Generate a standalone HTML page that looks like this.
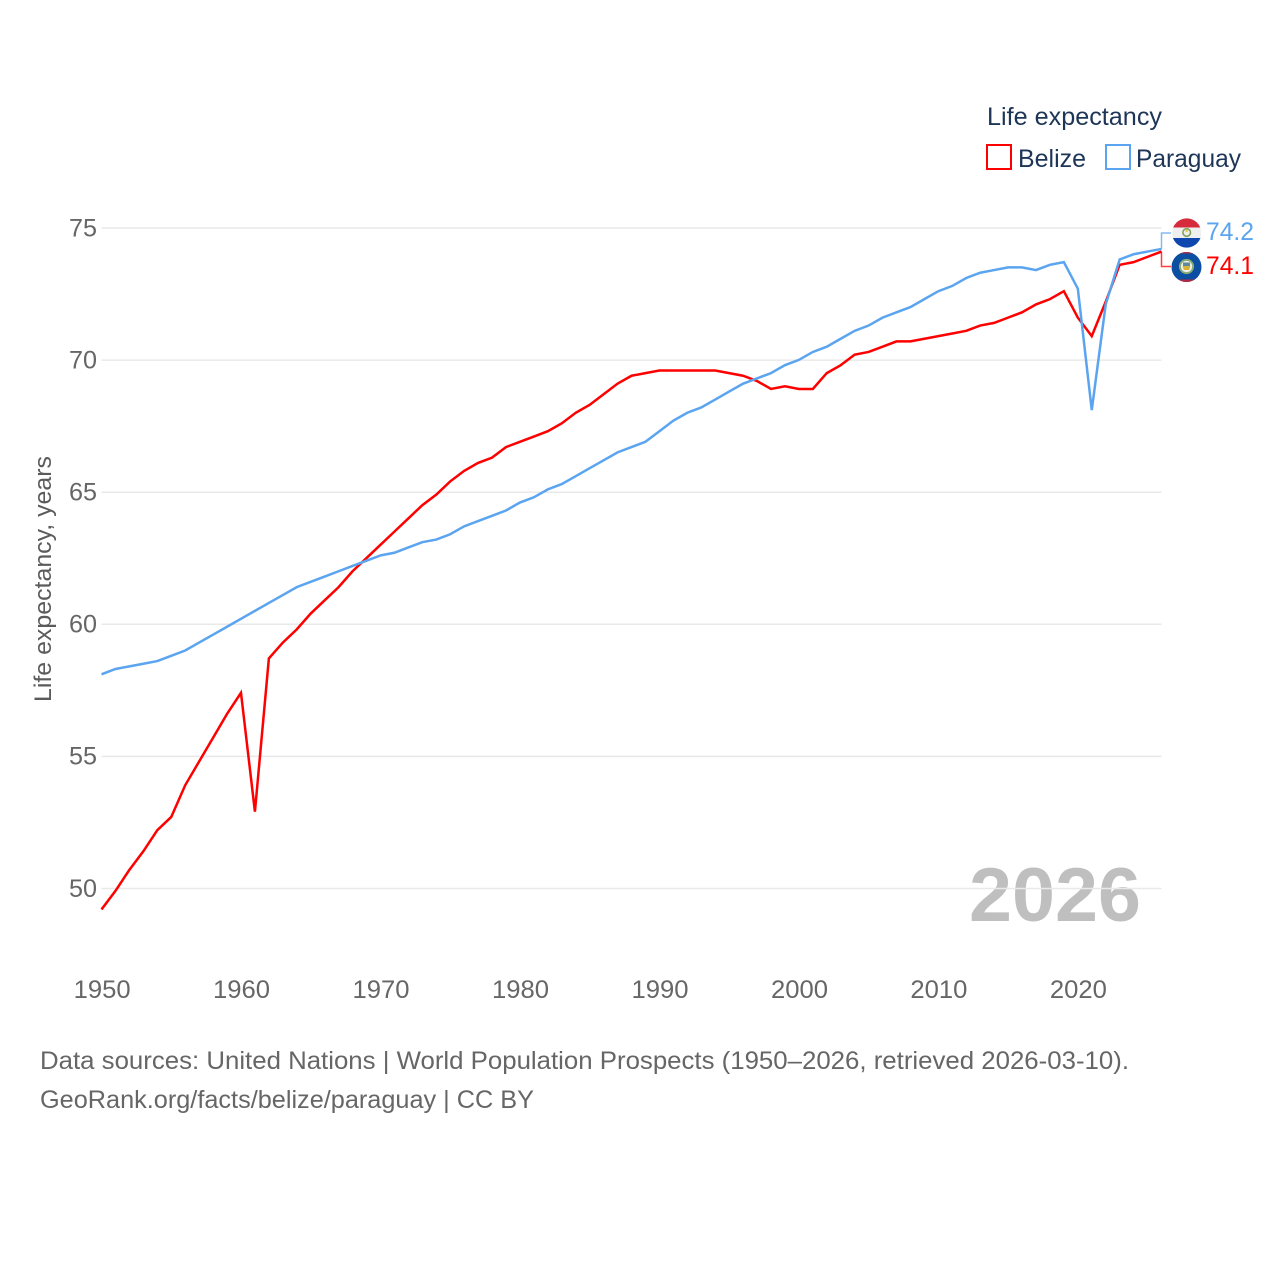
<!DOCTYPE html>
<html lang="en">
<head>
<meta charset="utf-8">
<title>Life expectancy: Belize and Paraguay</title>
<style>
html,body{margin:0;padding:0;background:#fff;width:1280px;height:1280px;overflow:hidden}
svg{display:block}
text{font-family:"Liberation Sans",sans-serif}
</style>
</head>
<body>
<svg id="chart" xmlns="http://www.w3.org/2000/svg" width="1280" height="1280" viewBox="0 0 1280 1280">
  <rect x="0" y="0" width="1280" height="1280" fill="#fff"/>
  <text x="969" y="921" font-size="76" font-weight="700" fill="#000" fill-opacity="0.25" textLength="172" lengthAdjust="spacingAndGlyphs">2026</text>
  <g id="grid"></g>
  <g id="yticks"></g>
  <g id="xticks"></g>
  <text transform="translate(51 702) rotate(-90)" font-size="24" fill="#5b5b5b" textLength="246" lengthAdjust="spacingAndGlyphs">Life expectancy, years</text>
  <g id="series"></g>
  <g id="connectors"></g>

  <g>
    <clipPath id="clip-py"><circle cx="1186.7" cy="233" r="14.6"/></clipPath>
    <g clip-path="url(#clip-py)">
      <rect x="1170" y="217" width="34" height="10.5" fill="#d52b3c"/>
      <rect x="1170" y="227.5" width="34" height="10.5" fill="#efefef"/>
      <rect x="1170" y="238" width="34" height="12" fill="#0f47af"/>
      <circle cx="1186.7" cy="232.5" r="3.8" fill="none" stroke="#7fa35a" stroke-width="1.6"/>
      <circle cx="1186.7" cy="231" r="1.2" fill="#e8c33d"/>
    </g>
  </g>
  <g>
    <clipPath id="clip-bz"><circle cx="1186.5" cy="267" r="15"/></clipPath>
    <g clip-path="url(#clip-bz)">
      <rect x="1170" y="251" width="34" height="32" fill="#0b4ea2"/>
      <rect x="1170" y="251" width="34" height="2.5" fill="#b02a40"/>
      <rect x="1170" y="279.5" width="34" height="3.5" fill="#b02a40"/>
      <circle cx="1186.5" cy="266.5" r="6.6" fill="#f1f1ea" stroke="#86ab75" stroke-width="2"/>
      <path d="M1182.5 266h8l-1.4 4h-5.2z" fill="#d9b23a"/>
      <path d="M1183 262.5h7v3.5h-7z" fill="#5a8a9c"/>
    </g>
  </g>
  <g id="endlabels"></g>

  <g>
    <text x="987" y="125" font-size="25" fill="#1d3557" textLength="175" lengthAdjust="spacingAndGlyphs">Life expectancy</text>
    <g>
      <rect x="987" y="145" width="24" height="24" fill="#fff" stroke="#ff0000" stroke-width="2"/>
      <text x="1018" y="167" font-size="25" fill="#1d3557" textLength="68" lengthAdjust="spacingAndGlyphs">Belize</text>
    </g>
    <g>
      <rect x="1106" y="145" width="24" height="24" fill="#fff" stroke="#5ba4ef" stroke-width="2"/>
      <text x="1136" y="167" font-size="25" fill="#1d3557" textLength="105" lengthAdjust="spacingAndGlyphs">Paraguay</text>
    </g>
  </g>

  <text x="40" y="1069" font-size="25" fill="#666" textLength="1089" lengthAdjust="spacingAndGlyphs">Data sources: United Nations | World Population Prospects (1950–2026, retrieved 2026-03-10).</text>
  <text x="40" y="1108" font-size="25" fill="#666" textLength="494" lengthAdjust="spacingAndGlyphs">GeoRank.org/facts/belize/paraguay | CC BY</text>
</svg>
<script>
const startYear = 1950;
const yTickValues = [50, 55, 60, 65, 70, 75];
const xTickValues = [1950, 1960, 1970, 1980, 1990, 2000, 2010, 2020];
const belizeValues = [
  49.2, 49.9, 50.7, 51.4, 52.2, 52.7, 53.9, 54.8, 55.7, 56.6,
  57.4, 52.9, 58.7, 59.3, 59.8, 60.4, 60.9, 61.4, 62.0, 62.5,
  63.0, 63.5, 64.0, 64.5, 64.9, 65.4, 65.8, 66.1, 66.3, 66.7,
  66.9, 67.1, 67.3, 67.6, 68.0, 68.3, 68.7, 69.1, 69.4, 69.5,
  69.6, 69.6, 69.6, 69.6, 69.6, 69.5, 69.4, 69.2, 68.9, 69.0,
  68.9, 68.9, 69.5, 69.8, 70.2, 70.3, 70.5, 70.7, 70.7, 70.8,
  70.9, 71.0, 71.1, 71.3, 71.4, 71.6, 71.8, 72.1, 72.3, 72.6,
  71.6, 70.9, 72.2, 73.6, 73.7, 73.9, 74.1
];
const paraguayValues = [
  58.1, 58.3, 58.4, 58.5, 58.6, 58.8, 59.0, 59.3, 59.6, 59.9,
  60.2, 60.5, 60.8, 61.1, 61.4, 61.6, 61.8, 62.0, 62.2, 62.4,
  62.6, 62.7, 62.9, 63.1, 63.2, 63.4, 63.7, 63.9, 64.1, 64.3,
  64.6, 64.8, 65.1, 65.3, 65.6, 65.9, 66.2, 66.5, 66.7, 66.9,
  67.3, 67.7, 68.0, 68.2, 68.5, 68.8, 69.1, 69.3, 69.5, 69.8,
  70.0, 70.3, 70.5, 70.8, 71.1, 71.3, 71.6, 71.8, 72.0, 72.3,
  72.6, 72.8, 73.1, 73.3, 73.4, 73.5, 73.5, 73.4, 73.6, 73.7,
  72.7, 68.1, 72.1, 73.8, 74.0, 74.1, 74.2
];

const NS = 'http://www.w3.org/2000/svg';
const plotLeft = 101.5, plotRight = 1161.5;
const lastIndex = belizeValues.length - 1;
function xScale(year) { return plotLeft + (year - startYear) * (plotRight - plotLeft) / lastIndex; }
function yScale(v) { return 888.3 - (v - 50) * 26.42; }
function make(tag, attrs, parent) {
  const el = document.createElementNS(NS, tag);
  for (const k in attrs) el.setAttribute(k, attrs[k]);
  parent.appendChild(el);
  return el;
}

const gridG = document.getElementById('grid');
const yG = document.getElementById('yticks');
const xG = document.getElementById('xticks');
const seriesG = document.getElementById('series');
const connG = document.getElementById('connectors');
const endG = document.getElementById('endlabels');

yTickValues.forEach(function (v) {
  const line = make('line', { x1: plotLeft, x2: plotRight, y1: yScale(v) + 0.2, y2: yScale(v) + 0.2, stroke: '#e9e9e9', 'stroke-width': 1.5 }, gridG);
  
  
  const t = make('text', { x: 97, y: yScale(v) + 8.5, 'text-anchor': 'end', 'font-size': 25, fill: '#666', textLength: 28, lengthAdjust: 'spacingAndGlyphs' }, yG);
  t.textContent = String(v);
  
  
});

xTickValues.forEach(function (y) {
  const t = make('text', { x: xScale(y) + 0.6, y: 998, 'text-anchor': 'middle', 'font-size': 25, fill: '#666', textLength: 57, lengthAdjust: 'spacingAndGlyphs' }, xG);
  t.textContent = String(y);
  
  
});

function pathFor(values) {
  return values.map(function (v, i) {
    return (i ? 'L' : 'M') + xScale(startYear + i).toFixed(2) + ' ' + yScale(v).toFixed(2);
  }).join('');
}

const belizeLine = make('path', { d: pathFor(belizeValues), fill: 'none', stroke: '#ff0000', 'stroke-width': 2.5, 'stroke-linejoin': 'miter' }, seriesG);


const paraguayLine = make('path', { d: pathFor(paraguayValues), fill: 'none', stroke: '#5ba4ef', 'stroke-width': 2.5, 'stroke-linejoin': 'miter' }, seriesG);



const endX = xScale(startYear + lastIndex);
const paraguayConn = make('path', { d: 'M' + endX + ' ' + yScale(paraguayValues[lastIndex]) + 'V233H1171', fill: 'none', stroke: '#5ba4ef', 'stroke-width': 1.5, opacity: 0.75 }, connG);


const belizeConn = make('path', { d: 'M' + endX + ' ' + yScale(belizeValues[lastIndex]) + 'V266.5H1171', fill: 'none', stroke: '#ff0000', 'stroke-width': 1.5, opacity: 0.75 }, connG);



const paraguayLabel = make('text', { x: 1206, y: 240, 'font-size': 25, fill: '#5ba4ef', textLength: 48, lengthAdjust: 'spacingAndGlyphs' }, endG);
paraguayLabel.textContent = paraguayValues[lastIndex].toFixed(1);


const belizeLabel = make('text', { x: 1206, y: 274, 'font-size': 25, fill: '#ff0000', textLength: 48, lengthAdjust: 'spacingAndGlyphs' }, endG);
belizeLabel.textContent = belizeValues[lastIndex].toFixed(1);


</script>
</body>
</html>
